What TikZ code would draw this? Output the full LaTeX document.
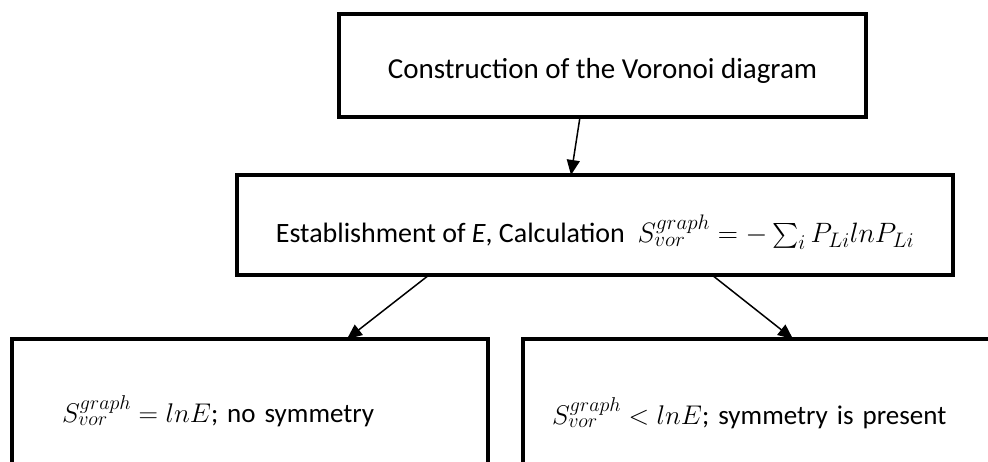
\RequirePackage{fix-cm}
\documentclass[tikz,border=0pt]{standalone}
\usepackage{amsmath}
\usepackage{fontspec}
\setmainfont{Carlito}
\DeclareMathSizes{27}{27}{20}{15}
\DeclareMathSizes{28}{28}{21}{16}
\usepackage{tikz}
\usetikzlibrary{arrows.meta, positioning}
\tikzset{
  block/.style={
    rectangle, draw=black, line width=4pt, fill=white, outer sep=0pt,
    text centered, font=\fontsize{27}{32}\selectfont
  },
  leftblock/.style={
    block, align=left, anchor=north west
  },
  arrow/.style={line width=1.5pt, -{Triangle[length=15pt,width=13pt]}},
}

\begin{document}
\begin{tikzpicture}[x=1pt, y=-1pt]
  \useasboundingbox (0,0) rectangle (988,462);
  \clip (0,0) rectangle (988,462);

  \node (voronoi) [block, minimum width=527pt, minimum height=103pt,
    font=\fontsize{29}{34}\selectfont, text height=32pt, text depth=6pt] at (602.5,65.5)
    {Construction of the Voronoi diagram};
  \node (entropy) [block, minimum width=716pt, minimum height=100pt,
    font=\fontsize{28}{33}\selectfont, text height=38pt, text depth=2pt,
    below=58pt of voronoi, xshift=-7.5pt]
    {Establishment of \textit{E}, Calculation\ \ $S_{vor}^{graph} = -\sum_i P_{Li} ln P_{Li}$};
  \node (nosym)   [leftblock, inner xsep=50pt, text width=376pt, minimum height=144pt] at (12,339)
    {$S_{vor}^{graph} = lnE$; no symmetry};
  \node (sym)     [leftblock, inner xsep=29pt, text width=469pt, minimum height=148pt] at (523,339)
    {$S_{vor}^{graph} < lnE$; symmetry is present};

  \draw [arrow] ([xshift=-22.5pt]voronoi.south) -- ([xshift=-24pt]entropy.north);
  \draw [arrow] ([xshift=-166pt]entropy.south)  -- ([xshift=97pt]nosym.north);
  \draw [arrow] ([xshift=117pt]entropy.south)   -- ([xshift=6.5pt]sym.north);
\end{tikzpicture}
\end{document}
